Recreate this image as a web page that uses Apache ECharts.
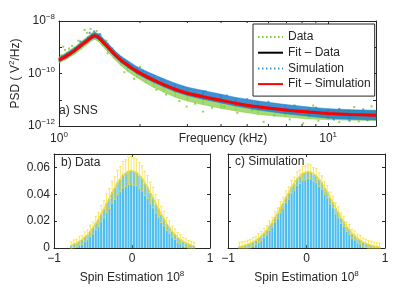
<!DOCTYPE html>
<html><head><meta charset="utf-8">
<script src="https://cdn.jsdelivr.net/npm/echarts@6/dist/echarts.min.js"></script>
<style>html,body{margin:0;padding:0;background:#fff}#c{width:415px;height:288px}</style>
</head><body><div id="c"></div>
<script>
// ---------- a) SNS : PSD (log10 values) ----------
const fitFreq = [1.0, 1.07, 1.144, 1.21, 1.28, 1.33, 1.36, 1.40, 1.45, 1.52, 1.6, 1.7, 1.8, 1.95, 2.1, 2.25, 2.45, 2.7, 3.0, 3.43, 4.0, 4.53, 5.5, 6.93, 8.5, 10, 12, 15.06];
const fitSimLog = [-9.49, -9.32, -9.12, -8.92, -8.73, -8.60, -8.56, -8.62, -8.78, -9.00, -9.25, -9.50, -9.68, -9.92, -10.10, -10.25, -10.42, -10.60, -10.75, -10.88, -11.02, -11.13, -11.27, -11.39, -11.47, -11.52, -11.56, -11.59];
const fitDataLog = [-9.50, -9.33, -9.13, -8.93, -8.74, -8.61, -8.57, -8.63, -8.79, -9.01, -9.26, -9.51, -9.70, -9.94, -10.12, -10.27, -10.44, -10.62, -10.77, -10.90, -11.04, -11.15, -11.29, -11.40, -11.48, -11.53, -11.57, -11.60];
const bandFreq = fitFreq;
const dataLoLog = [-9.60, -9.45, -9.27, -9.08, -8.88, -8.74, -8.70, -8.78, -8.95, -9.18, -9.44, -9.70, -9.92, -10.16, -10.36, -10.53, -10.71, -10.90, -11.05, -11.19, -11.33, -11.43, -11.56, -11.66, -11.73, -11.76, -11.78, -11.79];
const dataHiLog = [-9.38, -9.18, -8.98, -8.78, -8.58, -8.45, -8.42, -8.48, -8.62, -8.85, -9.10, -9.37, -9.57, -9.84, -10.04, -10.20, -10.38, -10.56, -10.72, -10.86, -11.00, -11.11, -11.24, -11.34, -11.38, -11.38, -11.39, -11.40];
const simLoLog = [-9.56, -9.40, -9.20, -9.00, -8.81, -8.68, -8.64, -8.70, -8.86, -9.08, -9.33, -9.58, -9.77, -10.01, -10.19, -10.34, -10.51, -10.69, -10.84, -10.98, -11.12, -11.24, -11.39, -11.53, -11.63, -11.70, -11.74, -11.77];
const simHiLog = [-9.40, -9.22, -9.02, -8.82, -8.62, -8.48, -8.45, -8.50, -8.65, -8.86, -9.10, -9.34, -9.51, -9.74, -9.90, -10.04, -10.20, -10.37, -10.52, -10.65, -10.79, -10.91, -11.05, -11.18, -11.28, -11.34, -11.38, -11.41];
const dataDots = [[1.037,-8.98],[1.052,-9.10],[1.02,-9.30],[1.09,-9.05],[1.12,-8.95],[1.18,-8.75],[1.245,-8.34],[1.27,-8.45],[1.31,-8.30],[1.38,-8.38],[1.43,-8.55],[1.50,-8.75],[1.515,-9.23],[1.58,-9.04],[1.66,-9.30],[1.697,-9.49],[1.75,-9.95],[1.846,-9.80],[1.9,-10.20],[2.0,-9.75],[2.15,-10.12],[2.3,-10.62],[2.5,-10.80],[2.8,-11.05],[2.98,-11.26],[3.2,-11.15],[3.43,-11.45],[3.7,-11.30],[4.11,-11.26],[4.6,-11.50],[5.22,-11.39],[5.76,-11.84],[6.3,-11.60],[7.2,-11.75],[8.08,-11.90],[9.2,-11.80],[11,-11.85],[13,-11.82],[14.5,-11.25],[12.5,-11.28],[8.8,-11.22]];
const simDots = [[1.03,-9.35],[1.2,-8.78],[1.3,-8.45],[1.35,-8.40],[1.42,-8.50],[1.55,-9.05],[1.75,-9.48],[2.05,-9.90],[2.4,-10.22],[2.9,-10.52],[3.5,-10.68],[4.2,-10.84],[5.0,-10.98],[6.0,-11.08],[7.5,-11.22],[9.0,-11.30],[11,-11.35],[13.5,-11.37],[12,-11.80],[14,-11.78],[10.5,-11.75]];
const freqMinorTicks = [2, 3, 4, 5, 6, 7, 8, 9];

// ---------- b) Data histogram ----------
const binsB = [-0.78, -0.745, -0.71, -0.675, -0.64, -0.605, -0.57, -0.535, -0.5, -0.465, -0.43, -0.395, -0.36, -0.325, -0.29, -0.255, -0.22, -0.185, -0.15, -0.115, -0.08, -0.045, -0.01, 0.025, 0.06, 0.095, 0.13, 0.165, 0.2, 0.235, 0.27, 0.305, 0.34, 0.375, 0.41, 0.445, 0.48, 0.515, 0.55, 0.585, 0.62, 0.655, 0.69, 0.725, 0.76, 0.795];
const histB = [0.0018, 0.0031, 0.0036, 0.0052, 0.0060, 0.0084, 0.0098, 0.0128, 0.0149, 0.0186, 0.0212, 0.0256, 0.0288, 0.0335, 0.0368, 0.0416, 0.0446, 0.0489, 0.0512, 0.0545, 0.0557, 0.0574, 0.0578, 0.0568, 0.0563, 0.0538, 0.0519, 0.0481, 0.0453, 0.0409, 0.0375, 0.0328, 0.0294, 0.0249, 0.0219, 0.0179, 0.0155, 0.0121, 0.0103, 0.0078, 0.0065, 0.0047, 0.0039, 0.0027, 0.0022, 0.0014];
const errB = [0.0027, 0.0029, 0.0030, 0.0032, 0.0033, 0.0036, 0.0038, 0.0042, 0.0045, 0.0050, 0.0054, 0.0060, 0.0064, 0.0070, 0.0075, 0.0081, 0.0085, 0.0091, 0.0094, 0.0099, 0.0100, 0.0102, 0.0103, 0.0102, 0.0101, 0.0098, 0.0095, 0.0090, 0.0086, 0.0080, 0.0076, 0.0069, 0.0065, 0.0059, 0.0055, 0.0049, 0.0046, 0.0041, 0.0039, 0.0036, 0.0034, 0.0031, 0.0030, 0.0029, 0.0028, 0.0027];
const fitB = [0.0021, 0.0029, 0.0038, 0.0049, 0.0063, 0.0081, 0.0101, 0.0124, 0.0152, 0.0182, 0.0216, 0.0252, 0.0291, 0.0331, 0.0372, 0.0412, 0.0450, 0.0485, 0.0516, 0.0541, 0.0560, 0.0571, 0.0575, 0.0571, 0.0560, 0.0541, 0.0516, 0.0485, 0.0450, 0.0412, 0.0372, 0.0331, 0.0291, 0.0252, 0.0216, 0.0182, 0.0152, 0.0124, 0.0101, 0.0080, 0.0063, 0.0049, 0.0038, 0.0029, 0.0021, 0.0015];

// ---------- c) Simulation histogram ----------
const binsC = [-0.855, -0.82, -0.785, -0.75, -0.715, -0.68, -0.645, -0.61, -0.575, -0.54, -0.505, -0.47, -0.435, -0.4, -0.365, -0.33, -0.295, -0.26, -0.225, -0.19, -0.155, -0.12, -0.085, -0.05, -0.015, 0.02, 0.055, 0.09, 0.125, 0.16, 0.195, 0.23, 0.265, 0.3, 0.335, 0.37, 0.405, 0.44, 0.475, 0.51, 0.545, 0.58, 0.615, 0.65, 0.685, 0.72, 0.755, 0.79, 0.825, 0.86, 0.895, 0.93];
const histC = [0.0011, 0.0015, 0.0019, 0.0027, 0.0033, 0.0046, 0.0055, 0.0074, 0.0088, 0.0113, 0.0132, 0.0166, 0.0190, 0.0231, 0.0258, 0.0304, 0.0335, 0.0381, 0.0410, 0.0456, 0.0479, 0.0517, 0.0531, 0.0557, 0.0559, 0.0571, 0.0566, 0.0548, 0.0539, 0.0508, 0.0488, 0.0446, 0.0419, 0.0372, 0.0342, 0.0295, 0.0266, 0.0222, 0.0197, 0.0159, 0.0138, 0.0106, 0.0093, 0.0069, 0.0059, 0.0041, 0.0035, 0.0025, 0.0020, 0.0013, 0.0011, 0.0007];
const errC = [0.0030, 0.0031, 0.0031, 0.0031, 0.0031, 0.0032, 0.0032, 0.0033, 0.0034, 0.0035, 0.0035, 0.0037, 0.0038, 0.0039, 0.0040, 0.0042, 0.0043, 0.0045, 0.0046, 0.0048, 0.0049, 0.0051, 0.0051, 0.0052, 0.0052, 0.0053, 0.0053, 0.0052, 0.0052, 0.0050, 0.0050, 0.0048, 0.0047, 0.0045, 0.0044, 0.0042, 0.0041, 0.0039, 0.0038, 0.0036, 0.0036, 0.0034, 0.0034, 0.0033, 0.0032, 0.0032, 0.0031, 0.0031, 0.0031, 0.0031, 0.0030, 0.0030];
const fitC = [0.0011, 0.0014, 0.0020, 0.0026, 0.0034, 0.0044, 0.0057, 0.0072, 0.0090, 0.0111, 0.0135, 0.0163, 0.0193, 0.0227, 0.0262, 0.0300, 0.0338, 0.0377, 0.0415, 0.0451, 0.0484, 0.0512, 0.0535, 0.0553, 0.0563, 0.0567, 0.0563, 0.0553, 0.0535, 0.0512, 0.0484, 0.0451, 0.0415, 0.0377, 0.0338, 0.0300, 0.0262, 0.0227, 0.0193, 0.0163, 0.0135, 0.0111, 0.0090, 0.0072, 0.0057, 0.0044, 0.0034, 0.0026, 0.0020, 0.0014, 0.0011, 0.0008];

// ---------- build ----------
const P = e => Math.pow(10, e);
const AX = '#262626';
const FONT = '"Liberation Sans", Arial, sans-serif';
const GREEN = '#7cc832', BLUE = '#2a86d0', BARBLUE = '#4dbeee';
const YEL = 'rgba(248,222,50,0.75)';
const minus = s => String(s).replace('-', '\u2212');
const richSup = {
  b: {fontSize: 12, fontFamily: FONT, color: AX},
  s: {fontSize: 8, fontFamily: FONT, color: AX, padding: [0, 0, 8, 0]}
};
const logFmt = (v, hideOdd) => {
  const l = Math.log10(v), e = Math.round(l);
  if (Math.abs(l - e) > 0.01) return '';
  if (hideOdd && e % 2) return '';
  return '{b|10}{s|' + minus(e) + '}';
};
const lineAx = {show: true, onZero: false, lineStyle: {color: AX, width: 1}};
const tickAx = {show: true, inside: true, length: 3, lineStyle: {color: AX}};

function bandSeries(lo, hi, color, z) {
  return {
    type: 'custom', xAxisIndex: 0, yAxisIndex: 0, silent: true, z: z,
    data: bandFreq.map((f, i) => [f, P(lo[i]), P(hi[i])]),
    encode: {x: 0, y: [1, 2]},
    renderItem: function (params, api) {
      const i = params.dataIndex;
      if (i >= bandFreq.length - 1) return null;
      const a = api.coord([bandFreq[i], P(lo[i])]);
      const b = api.coord([bandFreq[i + 1], P(lo[i + 1])]);
      const c = api.coord([bandFreq[i + 1], P(hi[i + 1])]);
      const d = api.coord([bandFreq[i], P(hi[i])]);
      return {type: 'polygon', shape: {points: [a, b, c, d]},
        style: {fill: color, stroke: color, lineWidth: 0.6}};
    }
  };
}
function errSeries(bins, vals, errs, xi) {
  return {
    type: 'custom', xAxisIndex: xi, yAxisIndex: xi, silent: true, z: 4,
    data: bins.map((x, i) => [x, Math.max(0, vals[i] - errs[i]), vals[i] + errs[i]]),
    encode: {x: 0, y: [1, 2]},
    renderItem: function (params, api) {
      const pl = api.coord([api.value(0), api.value(1)]);
      const ph = api.coord([api.value(0), api.value(2)]);
      const w = 1.3, st = {stroke: YEL, lineWidth: 1};
      return {type: 'group', children: [
        {type: 'line', shape: {x1: pl[0], y1: pl[1], x2: ph[0], y2: ph[1]}, style: st},
        {type: 'line', shape: {x1: ph[0] - w, y1: ph[1], x2: ph[0] + w, y2: ph[1]}, style: st},
        {type: 'line', shape: {x1: pl[0] - w, y1: pl[1], x2: pl[0] + w, y2: pl[1]}, style: st}
      ]};
    }
  };
}
function histAxesX(gi) {
  return [{
    gridIndex: gi, type: 'value', min: -1, max: 1, interval: 1, position: 'bottom',
    axisLine: lineAx, axisTick: tickAx, splitLine: {show: false},
    axisLabel: {margin: 5, fontSize: 12, fontFamily: FONT, color: AX, formatter: v => minus(v)},
    name: '{a|Spin Estimation 10}{s|8}', nameLocation: 'middle', nameGap: 22, nameMoveOverlap: false,
    nameTextStyle: {rich: {a: {fontSize: 12, fontFamily: FONT, color: AX}, s: richSup.s}}
  }, {
    gridIndex: gi, type: 'value', min: -1, max: 1, interval: 1, position: 'top',
    axisLine: lineAx, axisTick: tickAx, axisLabel: {show: false}, splitLine: {show: false}
  }];
}
function histAxesY(gi, showLabels) {
  return [{
    gridIndex: gi, type: 'value', min: 0, max: 0.07, interval: 0.02, position: 'left',
    axisLine: lineAx, axisTick: tickAx, splitLine: {show: false},
    axisLabel: {show: showLabels, margin: 4, fontSize: 12, fontFamily: FONT, color: AX,
      formatter: v => (Math.abs(v - 0.07) < 1e-9 ? '' : (v === 0 ? '0' : v.toFixed(2)))}
  }, {
    gridIndex: gi, type: 'value', min: 0, max: 0.07, interval: 0.02, position: 'right',
    axisLine: lineAx, axisTick: tickAx, axisLabel: {show: false}, splitLine: {show: false}
  }];
}

const option = {
  animation: false,
  backgroundColor: '#fff',
  textStyle: {fontFamily: FONT},
  grid: [
    {left: 54, top: 21, width: 322, height: 105},
    {left: 54, top: 154, width: 156, height: 94},
    {left: 228, top: 154, width: 157, height: 94}
  ],
  xAxis: [
    {gridIndex: 0, type: 'log', logBase: 10, min: 1, max: 15.06, position: 'bottom',
     axisLine: lineAx, axisTick: tickAx, splitLine: {show: false},
     axisLabel: {margin: 5, formatter: v => logFmt(v, false), rich: richSup},
     name: 'Frequency (kHz)', nameLocation: 'middle', nameGap: 7, nameMoveOverlap: false,
     nameTextStyle: {fontSize: 12, fontFamily: FONT, color: AX, padding: [0, 0, 0, 11]}},
    {gridIndex: 0, type: 'log', logBase: 10, min: 1, max: 15.06, position: 'top',
     axisLine: lineAx, axisTick: tickAx, axisLabel: {show: false}, splitLine: {show: false}},
    ...histAxesX(1), ...histAxesX(2)
  ],
  yAxis: [
    {gridIndex: 0, type: 'log', logBase: 10, min: 1e-12, max: 1e-8, position: 'left',
     axisLine: lineAx, axisTick: tickAx, splitLine: {show: false},
     axisLabel: {margin: 4, formatter: v => logFmt(v, true), rich: richSup},
     name: '{a|PSD ( V}{s|2}{a|/Hz)}', nameLocation: 'middle', nameGap: 35, nameRotate: 90, nameMoveOverlap: false,
     nameTextStyle: {rich: {a: {fontSize: 12, fontFamily: FONT, color: AX}, s: richSup.s}}},
    {gridIndex: 0, type: 'log', logBase: 10, min: 1e-12, max: 1e-8, position: 'right',
     axisLine: lineAx, axisTick: tickAx, axisLabel: {show: false}, splitLine: {show: false}},
    ...histAxesY(1, true), ...histAxesY(2, false)
  ],
  legend: {
    left: 253, top: 24, orient: 'vertical', selectedMode: false,
    itemWidth: 25, itemHeight: 12, itemGap: 3.7, padding: [7, 4, 6, 4],
    borderColor: AX, borderWidth: 1, backgroundColor: '#fff',
    itemStyle: {opacity: 0},
    textStyle: {fontSize: 12, fontFamily: FONT, color: AX},
    data: ['Data', 'Fit \u2013 Data', 'Simulation', 'Fit \u2013 Simulation']
  },
  graphic: [
    {type: 'text', left: 59, top: 105, style: {text: 'a) SNS', font: '12px ' + FONT, fill: AX}},
    {type: 'text', left: 61, top: 157, style: {text: 'b) Data', font: '12px ' + FONT, fill: AX}},
    {type: 'text', left: 235, top: 156, style: {text: 'c) Simulation', font: '12px ' + FONT, fill: AX}}
  ],
  series: [
    bandSeries(dataLoLog, dataHiLog, 'rgba(124,200,50,0.68)', 1),
    {type: 'scatter', xAxisIndex: 0, yAxisIndex: 0, symbol: 'rect', symbolSize: 2, z: 1, silent: true,
     itemStyle: {color: GREEN}, data: dataDots.map(p => [p[0], P(p[1])])},
    {name: 'Fit \u2013 Data', type: 'line', xAxisIndex: 0, yAxisIndex: 0, symbol: 'none', smooth: 0.25, z: 2,
     lineStyle: {color: '#000', width: 2}, data: fitFreq.map((f, i) => [f, P(fitDataLog[i])])},
    bandSeries(simLoLog, simHiLog, 'rgba(30,125,205,0.85)', 3),
    {type: 'scatter', xAxisIndex: 0, yAxisIndex: 0, symbol: 'rect', symbolSize: 2, z: 3, silent: true,
     itemStyle: {color: BLUE}, data: simDots.map(p => [p[0], P(p[1])])},
    {name: 'Fit \u2013 Simulation', type: 'line', xAxisIndex: 0, yAxisIndex: 0, symbol: 'none', smooth: 0.25, z: 5,
     lineStyle: {color: '#ff0000', width: 3}, data: fitFreq.map((f, i) => [f, P(fitSimLog[i])])},
    {name: 'Data', type: 'line', xAxisIndex: 0, yAxisIndex: 0, symbol: 'none', data: [],
     lineStyle: {color: GREEN, width: 2, type: [1.5, 2.5]}, itemStyle: {color: GREEN}},
    {name: 'Simulation', type: 'line', xAxisIndex: 0, yAxisIndex: 0, symbol: 'none', data: [],
     lineStyle: {color: '#3a9ad8', width: 2, type: [1.5, 2.5]}, itemStyle: {color: '#3a9ad8'}},
    {type: 'custom', xAxisIndex: 0, yAxisIndex: 0, silent: true, z: 6,
     data: freqMinorTicks.map(v => [v]),
     renderItem: function (params, api) {
       const b = api.coord([api.value(0), 1e-12]);
       const t = api.coord([api.value(0), 1e-8]);
       const st = {stroke: AX, lineWidth: 1};
       return {type: 'group', children: [
         {type: 'line', shape: {x1: b[0], y1: b[1], x2: b[0], y2: b[1] - 2}, style: st},
         {type: 'line', shape: {x1: t[0], y1: t[1], x2: t[0], y2: t[1] + 2}, style: st}
       ]};
     }},
    // b)
    {type: 'bar', xAxisIndex: 2, yAxisIndex: 2, barWidth: 2.2, z: 2, silent: true,
     itemStyle: {color: BARBLUE}, data: binsB.map((x, i) => [x, histB[i]])},
    errSeries(binsB, histB, errB, 2),
    {type: 'line', xAxisIndex: 2, yAxisIndex: 2, symbol: 'none', smooth: true, z: 3, silent: true,
     lineStyle: {color: 'rgba(240,215,40,0.85)', width: 1.5}, data: binsB.map((x, i) => [x, fitB[i]])},
    // c)
    {type: 'bar', xAxisIndex: 4, yAxisIndex: 4, barWidth: 2.2, z: 2, silent: true,
     itemStyle: {color: BARBLUE}, data: binsC.map((x, i) => [x, histC[i]])},
    errSeries(binsC, histC, errC, 4),
    {type: 'line', xAxisIndex: 4, yAxisIndex: 4, symbol: 'none', smooth: true, z: 3, silent: true,
     lineStyle: {color: 'rgba(240,215,40,0.85)', width: 1.5}, data: binsC.map((x, i) => [x, fitC[i]])}
  ]
};
const chart = echarts.init(document.getElementById('c'), null, {renderer: 'canvas'});
chart.setOption(option);
</script>
</body></html>
